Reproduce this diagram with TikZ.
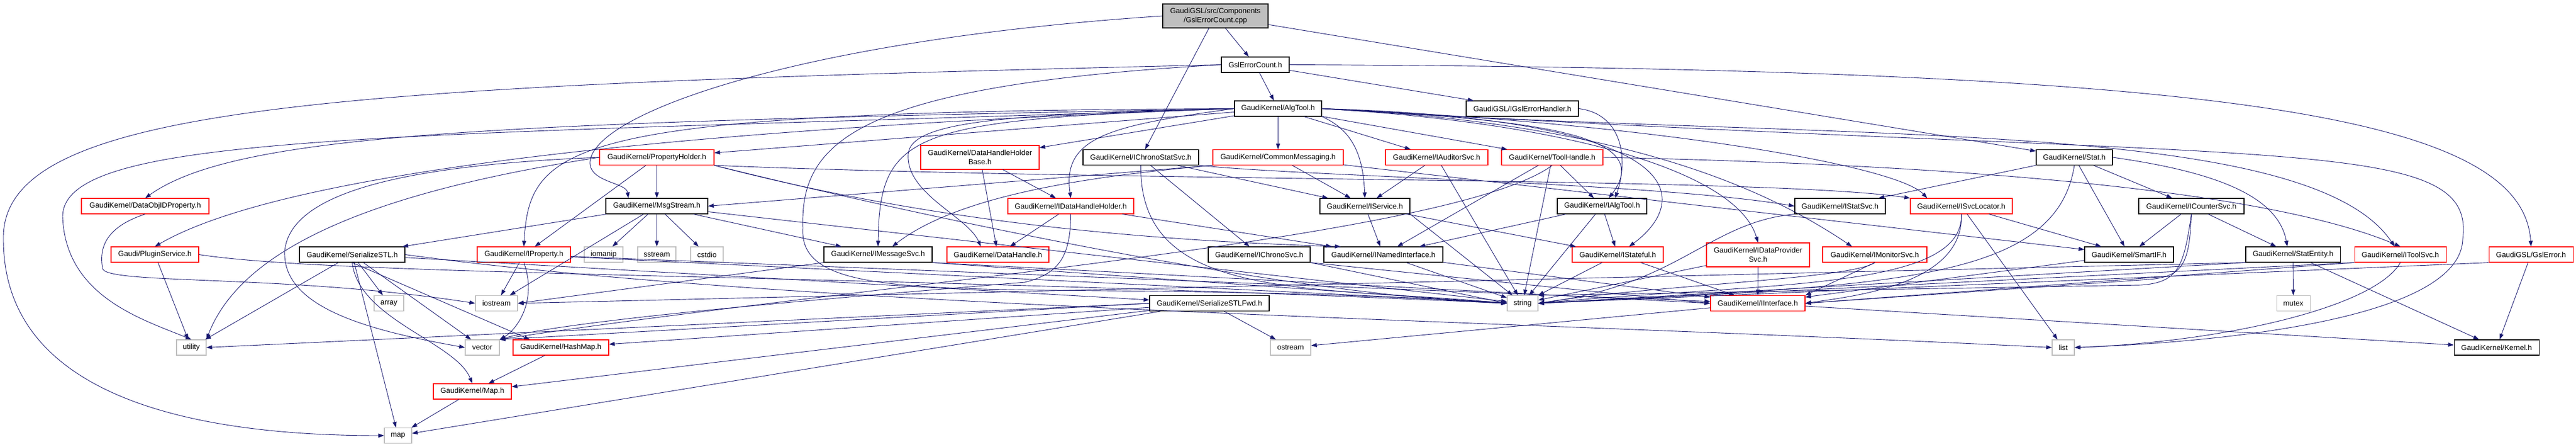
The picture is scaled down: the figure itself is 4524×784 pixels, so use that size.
\documentclass[tikz,border=0pt]{standalone}
\usepackage{fontspec}
\newfontfamily\dfont{Liberation Sans}
\usetikzlibrary{arrows.meta,calc}
\definecolor{navy}{HTML}{191970}
\definecolor{graybd}{HTML}{BFBFBF}
\definecolor{graybg}{HTML}{BFBFBF}
\newcommand{\nodefont}{\dfont\fontsize{13}{16}\selectfont}
\tikzset{
  nd/.style={draw=black, line width=1.1pt, inner sep=0pt, align=center, font=\nodefont, minimum height=27pt},
  rd/.style={nd, draw=red},
  gd/.style={nd, draw=graybd},
  wd/.style={minimum width=#1pt},
  edge/.style={draw=navy, line width=0.9pt, -{Triangle[length=10pt,width=7pt]}}
}
\begin{document}
\begin{tikzpicture}[x=1pt,y=-1pt]
\useasboundingbox (0,0) rectangle (4524,784);
% nodes
\node[nd,fill=graybg,wd=185,minimum height=42pt] (root) at (2134.5,28) {GaudiGSL/src/Components\\/GslErrorCount.cpp};
\node[nd,wd=119] (gec) at (2204.5,113.5) {GslErrorCount.h};
\node[nd,wd=153] (algtool) at (2244.5,190.5) {GaudiKernel/AlgTool.h};
\node[nd,wd=197] (igsl) at (2673.5,190.5) {GaudiGSL/IGslErrorHandler.h};
\node[rd,wd=224] (dataobjid) at (255,361.5) {GaudiKernel/DataObjIDProperty.h};
\node[rd,wd=154] (plugin) at (272,446.5) {Gaudi/PluginService.h};
\node[nd,wd=185] (serstl) at (618.5,446.5) {GaudiKernel/SerializeSTL.h};
\node[rd,wd=164] (iprop) at (920,446.5) {GaudiKernel/IProperty.h};
\node[gd,wd=68] (iomanip) at (1060,446.5) {iomanip};
\node[rd,wd=201] (propholder) at (1153.5,276) {GaudiKernel/PropertyHolder.h};
\node[nd,wd=179] (msgstream) at (1153.5,361.5) {GaudiKernel/MsgStream.h};
\node[rd,wd=208,minimum height=42pt] (dhhb) at (1721,276) {GaudiKernel/DataHandleHolder\\Base.h};
\node[nd,wd=203] (ichronostat) at (2003.5,276) {GaudiKernel/IChronoStatSvc.h};
\node[rd,wd=229] (commsg) at (2244.5,276) {GaudiKernel/CommonMessaging.h};
\node[rd,wd=221] (idhh) at (1880.5,361.5) {GaudiKernel/IDataHandleHolder.h};
\node[gd,wd=67] (sstream) at (1153.5,446.5) {sstream};
\node[gd,wd=57] (cstdio) at (1241.5,446.5) {cstdio};
\node[nd,wd=190] (imsgsvc) at (1542,446.5) {GaudiKernel/IMessageSvc.h};
\node[rd,wd=179] (datahandle) at (1752.5,446.5) {GaudiKernel/DataHandle.h};
\node[nd,wd=179] (ichrono) at (2211.5,446.5) {GaudiKernel/IChronoSvc.h};
\node[rd,wd=180] (iauditor) at (2523,276) {GaudiKernel/IAuditorSvc.h};
\node[rd,wd=178] (toolhandle) at (2726,276) {GaudiKernel/ToolHandle.h};
\node[nd,wd=158] (iservice) at (2397,361.5) {GaudiKernel/IService.h};
\node[nd,wd=157] (ialgtool) at (2813.5,361.5) {GaudiKernel/IAlgTool.h};
\node[nd,wd=159] (istatsvc) at (3231.5,361.5) {GaudiKernel/IStatSvc.h};
\node[rd,wd=179] (isvcloc) at (3444.5,361.5) {GaudiKernel/ISvcLocator.h};
\node[nd,wd=209] (inamed) at (2429.5,446.5) {GaudiKernel/INamedInterface.h};
\node[rd,wd=160] (istateful) at (2841,446.5) {GaudiKernel/IStateful.h};
\node[rd,wd=181,minimum height=42pt] (idatapro) at (3087.5,447) {GaudiKernel/IDataProvider\\Svc.h};
\node[rd,wd=183] (imonitor) at (3292.5,446.5) {GaudiKernel/IMonitorSvc.h};
\node[nd,wd=134] (stat) at (3643,276) {GaudiKernel/Stat.h};
\node[nd,wd=185] (icounter) at (3848.5,361.5) {GaudiKernel/ICounterSvc.h};
\node[nd,wd=156] (smartif) at (3739,446.5) {GaudiKernel/SmartIF.h};
\node[nd,wd=166] (statentity) at (4027,446.5) {GaudiKernel/StatEntity.h};
\node[rd,wd=161] (itoolsvc) at (4215.5,446.5) {GaudiKernel/IToolSvc.h};
\node[rd,wd=148] (gslerror) at (4445,446.5) {GaudiGSL/GslError.h};
\node[gd,wd=52] (array) at (683,532) {array};
\node[gd,wd=74] (iostream) at (872,532) {iostream};
\node[nd,wd=210] (serfwd) at (2124,532) {GaudiKernel/SerializeSTLFwd.h};
\node[gd,wd=54] (string) at (2674,532) {string};
\node[rd,wd=166] (iinterface) at (3087,532) {GaudiKernel/IInterface.h};
\node[gd,wd=59] (mutex) at (4027.5,532) {mutex};
\node[gd,wd=52] (utility) at (336,609.5) {utility};
\node[gd,wd=60] (vector) at (847,609.5) {vector};
\node[rd,wd=168] (hashmap) at (985,609.5) {GaudiKernel/HashMap.h};
\node[gd,wd=71] (ostream) at (2266.5,609.5) {ostream};
\node[gd,wd=39] (list) at (3623.5,609.5) {list};
\node[nd,wd=149] (kernel) at (4384.5,609.5) {GaudiKernel/Kernel.h};
\node[rd,wd=137] (maph) at (829.5,686.5) {GaudiKernel/Map.h};
\node[gd,wd=48] (map) at (699,764) {map};
% waypoints
\coordinate (rmA) at (1036,285);
\coordinate (gmA) at (6,420);
\coordinate (gsA) at (1410,400);
\coordinate (adA) at (1595,270);
\coordinate (alA) at (4325,420);
\coordinate (auA) at (110,380);
\coordinate (pvA) at (500,440);
\coordinate (doA) at (180,470);
\coordinate (idA) at (1800,495);
\coordinate (icA) at (3760,500);
\coordinate (icB) at (3775,490);
% root
\draw[edge] (root.west) .. controls (1400,70) and (1040,200) .. (rmA) .. controls (1036,320) and (1100,320) .. ($(msgstream.north)+(-50,0)$);
\draw[edge] (root) -- (ichronostat);
\draw[edge] (root) -- (gec);
\draw[edge] (root) -- (stat);
% GslErrorCount.h
\draw[edge] (gec.west) .. controls (600,150) and (0,180) .. (gmA) .. controls (6,720) and (400,764) .. (map.west);
\draw[edge] (gec) -- (algtool);
\draw[edge] (gec) -- (igsl);
\draw[edge] (gec.east) .. controls (3900,120) and (4430,200) .. (gslerror.north);
\draw[edge] (gec.west) .. controls (1500,150) and (1405,250) .. (gsA) .. controls (1400,560) and (1800,480) .. (string.west);
% AlgTool.h
\draw[edge] (algtool) -- (propholder);
\draw[edge] (algtool) -- (dhhb);
\draw[edge] (algtool) -- (commsg);
\draw[edge] (algtool.west) .. controls (1950,220) and (1865,240) .. (idhh.north);
\draw[edge] (algtool.west) .. controls (1600,210) and (1545,230) .. (imsgsvc.north);
\draw[edge] (algtool.west) .. controls (1750,200) and (1600,215) .. (adA) .. controls (1590,340) and (1700,380) .. ($(datahandle.north)+(-30,0)$);
\draw[edge] (algtool) -- (iauditor);
\draw[edge] (algtool) -- (toolhandle);
\draw[edge] (algtool.south east) .. controls (2380,230) and (2394,280) .. (iservice.north);
\draw[edge] (algtool.east) .. controls (2700,210) and (2910,235) .. ($(ialgtool.north)+(12,0)$);
\draw[edge] (algtool.east) .. controls (3000,210) and (2960,360) .. ($(istateful.north)+(20,0)$);
\draw[edge] (algtool.east) .. controls (2750,215) and (3050,300) .. (idatapro.north);
\draw[edge] (algtool.east) .. controls (2850,215) and (3100,330) .. ($(imonitor.north)+(-40,0)$);
\draw[edge] (algtool.east) .. controls (2900,215) and (3330,290) .. ($(isvcloc.north)+(-60,0)$);
\draw[edge] (algtool.east) .. controls (3200,250) and (4050,200) .. ($(itoolsvc.north)+(-10,0)$);
\draw[edge] (algtool.west) .. controls (900,215) and (420,230) .. (dataobjid.north);
\draw[edge] (algtool.west) .. controls (1200,225) and (500,300) .. (plugin.north);
\draw[edge] (algtool.west) .. controls (1000,195) and (930,250) .. (iprop.north);
\draw[edge] (algtool.east) .. controls (4000,290) and (4350,230) .. (alA) .. controls (4320,560) and (3900,600) .. (list.east);
\draw[edge] (algtool.west) .. controls (700,240) and (110,230) .. (auA) .. controls (115,520) and (250,560) .. (utility.north);
% IGslErrorHandler.h
\draw[edge] (igsl.east) .. controls (2850,200) and (2860,280) .. ($(ialgtool.north)+(23,0)$);
% PropertyHolder.h
\draw[edge] (propholder) -- (msgstream);
\draw[edge] (propholder) -- (iprop);
\draw[edge] (propholder.south east) .. controls (2000,320) and (3100,310) .. (isvcloc.north west);
\draw[edge] (propholder.south east) .. controls (1600,380) and (1950,420) .. ($(inamed.north west)+(30,0)$);
\draw[edge] (propholder.south east) .. controls (1700,400) and (2300,520) .. (string.west);
\draw[edge] (propholder.west) .. controls (700,290) and (510,340) .. (pvA) .. controls (495,540) and (650,580) .. (vector.west);
\draw[edge] (propholder.west) .. controls (700,330) and (430,420) .. (utility.north east);
% MsgStream.h
\draw[edge] (msgstream) -- (iomanip);
\draw[edge] (msgstream) -- (sstream);
\draw[edge] (msgstream) -- (cstdio);
\draw[edge] (msgstream) -- (imsgsvc);
\draw[edge] (msgstream) -- (serstl);
\draw[edge] (msgstream) -- (string);
\draw[edge] (msgstream) -- (iostream);
% DataObjIDProperty.h
\draw[edge] (dataobjid.south) .. controls (180,400) and (175,440) .. (doA) .. controls (180,500) and (500,480) .. (iostream.west);
% PluginService.h
\draw[edge] (plugin) -- (utility);
\draw[edge] (plugin.east) .. controls (600,485) and (1500,480) .. (string.west);
% SerializeSTL.h
\draw[edge] (serstl) -- (array);
\draw[edge] (serstl) -- (utility);
\draw[edge] (serstl) -- (vector);
\draw[edge] (serstl.south) -- ($(hashmap.north west)+(30,0)$);
\draw[edge] (serstl.south) .. controls (630,560) and (800,600) .. (maph.north);
\draw[edge] (serstl) -- (map);
\draw[edge] (serstl) -- (serfwd);
\draw[edge] (serstl.east) .. controls (1400,540) and (2600,560) .. (list.west);
% IProperty.h
\draw[edge] (iprop) -- (iostream);
\draw[edge] (iprop.south) .. controls (945,530) and (905,580) .. (vector.north east);
\draw[edge] (iprop) -- (string);
\draw[edge] (iprop) -- (iinterface);
% DataHandleHolderBase.h
\draw[edge] (dhhb) -- (idhh);
\draw[edge] (dhhb) -- (datahandle);
% IChronoStatSvc.h
\draw[edge] (ichronostat) -- (ichrono);
\draw[edge] (ichronostat.south east) .. controls (2300,310) and (2900,320) .. (istatsvc.west);
\draw[edge] (ichronostat) -- (iservice);
\draw[edge] (ichronostat.south) .. controls (2000,530) and (2300,500) .. (string.west);
% CommonMessaging.h
\draw[edge] (commsg.south west) .. controls (1900,310) and (1680,345) .. ($(imsgsvc.north)+(25,0)$);
\draw[edge] (commsg.south west) -- (msgstream.east);
\draw[edge] (commsg) -- (iservice);
\draw[edge] (commsg) -- (smartif);
% IDataHandleHolder.h
\draw[edge] (idhh) -- (datahandle);
\draw[edge] (idhh) -- (inamed);
\draw[edge] (idhh.south) .. controls (1880,450) and (1860,480) .. (idA) .. controls (1500,520) and (1000,560) .. (vector.north east);
% IMessageSvc.h
\draw[edge] (imsgsvc.south east) -- (iinterface.west);
\draw[edge] (imsgsvc.south east) -- (string.west);
\draw[edge] (imsgsvc.south west) -- (iostream.east);
% IChronoSvc.h
\draw[edge] (ichrono.south east) -- (string.west);
\draw[edge] (ichrono.south east) -- (iinterface.west);
% IAuditorSvc.h
\draw[edge] (iauditor) -- (iservice);
\draw[edge] (iauditor) -- (string);
% ToolHandle.h
\draw[edge] (toolhandle) -- (ialgtool);
\draw[edge] (toolhandle) -- (inamed);
\draw[edge] (toolhandle) -- (string);
\draw[edge] (toolhandle.east) .. controls (3500,290) and (4000,340) .. (itoolsvc.north);
\draw[edge] (toolhandle.south) .. controls (2550,420) and (1500,500) .. (vector.north east);
% IService.h
\draw[edge] (iservice) -- (inamed);
\draw[edge] (iservice) -- (istateful);
\draw[edge] (iservice.south east) -- (string);
% IAlgTool.h
\draw[edge] (ialgtool) -- (inamed);
\draw[edge] (ialgtool) -- (istateful);
\draw[edge] (ialgtool) -- (string);
% IStatSvc.h
\draw[edge] (istatsvc.south west) .. controls (3000,390) and (2950,500) .. (string.east);
% ISvcLocator.h
\draw[edge] (isvcloc) -- (smartif);
\draw[edge] (isvcloc.south) .. controls (3450,510) and (3100,495) .. (string.east);
\draw[edge] (isvcloc.south) .. controls (3450,500) and (3250,520) .. (iinterface.east);
\draw[edge] (isvcloc) -- (list);
% INamedInterface.h
\draw[edge] (inamed) -- (iinterface);
\draw[edge] (inamed) -- (string);
% IStateful.h
\draw[edge] (istateful) -- (iinterface);
\draw[edge] (istateful) -- (string);
% IDataProviderSvc.h
\draw[edge] (idatapro) -- (iinterface);
\draw[edge] (idatapro) -- (string);
% IMonitorSvc.h
\draw[edge] (imonitor.south) -- (iinterface.north east);
\draw[edge] (imonitor.south) .. controls (3250,490) and (2900,500) .. (string.east);
% SmartIF.h
\draw[edge] (smartif) -- (iinterface);
% ICounterSvc.h
\draw[edge] (icounter) -- (smartif);
\draw[edge] (icounter) -- (statentity);
\draw[edge] (icounter.south) .. controls (3835,470) and (3825,495) .. (icA) -- (string.north east);
\draw[edge] (icounter.south) .. controls (3845,460) and (3835,485) .. (icB) -- (iinterface.east);
% StatEntity.h
\draw[edge] (statentity) -- (mutex);
\draw[edge] (statentity) -- (kernel);
\draw[edge] (statentity.south west) -- (string.east);
\draw[edge] (statentity.south west) -- (iostream.east);
% IToolSvc.h
\draw[edge] (itoolsvc.south) .. controls (4170,540) and (3900,600) .. (list.east);
\draw[edge] (itoolsvc.south west) -- (iinterface.east);
\draw[edge] (itoolsvc.south west) -- (string.east);
% GslError.h
\draw[edge] (gslerror) -- (kernel);
\draw[edge] (gslerror.south west) -- (string.east);
% Stat.h
\draw[edge] (stat) -- (istatsvc);
\draw[edge] (stat) -- (smartif);
\draw[edge] (stat) -- (icounter);
\draw[edge] (stat.east) .. controls (3880,300) and (4000,340) .. ($(statentity.north)+(-10,0)$);
\draw[edge] (stat.south) .. controls (3610,500) and (3300,500) .. (string.east);
% IInterface.h
\draw[edge] (iinterface) -- (ostream);
\draw[edge] (iinterface) -- (kernel);
% SerializeSTLFwd.h
\draw[edge] (serfwd) -- (ostream);
\draw[edge] (serfwd) -- (map);
\draw[edge] (serfwd) -- (maph);
\draw[edge] (serfwd) -- (hashmap);
\draw[edge] (serfwd.west) -- (vector.north east);
\draw[edge] (serfwd.west) -- (utility.east);
% HashMap.h, Map.h
\draw[edge] (hashmap) -- (maph);
\draw[edge] (maph) -- (map);
\end{tikzpicture}
\end{document}
